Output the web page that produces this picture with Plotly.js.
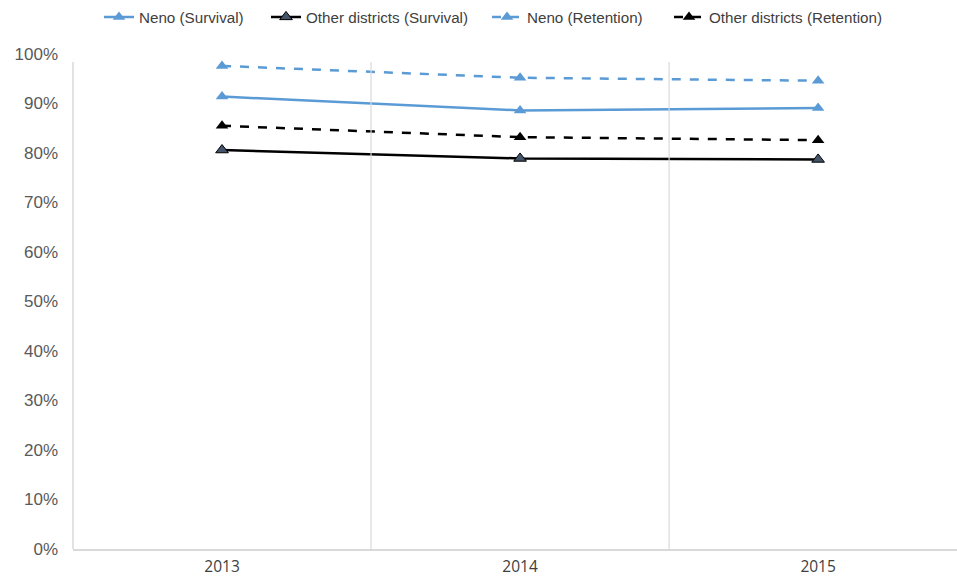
<!DOCTYPE html>
<html>
<head>
<meta charset="utf-8">
<script src="https://cdn.plot.ly/plotly-3.0.1.min.js"></script>
<style>html,body{margin:0;padding:0;background:#fff;}#chart{width:957px;height:579px;}</style>
</head>
<body>
<div id="chart"></div>
<script>
var years = ["2013", "2014", "2015"];
var nenoSurvival = [91.4, 88.6, 89.1];
var otherSurvival = [80.6, 78.9, 78.7];
var nenoRetention = [97.6, 95.2, 94.6];
var otherRetention = [85.5, 83.2, 82.6];
var yTicks = [0, 10, 20, 30, 40, 50, 60, 70, 80, 90, 100];

var blue = "#5b9bd5";
var traces = [
  {x: years, y: nenoSurvival, name: "Neno (Survival)", mode: "lines+markers", legend: "legend",
   line: {color: blue, width: 2.5}, marker: {symbol: "triangle-up", size: 11, color: blue}},
  {x: years, y: otherSurvival, name: "Other districts (Survival)", mode: "lines+markers", legend: "legend2",
   line: {color: "#000000", width: 2.5}, marker: {symbol: "triangle-up", size: 11, color: "#44546a", line: {color: "#000", width: 1}}},
  {x: years, y: nenoRetention, name: "Neno (Retention)", mode: "lines+markers", legend: "legend3",
   line: {color: blue, width: 2.5, dash: "dash"}, marker: {symbol: "triangle-up", size: 11, color: blue}},
  {x: years, y: otherRetention, name: "Other districts (Retention)", mode: "lines+markers", legend: "legend4",
   line: {color: "#000000", width: 2.5, dash: "dash"}, marker: {symbol: "triangle-up", size: 11, color: "#000000"}}
];

var legFont = {family: "Liberation Sans, Arial", size: 15.2, color: "#404040"};
function leg(px) {
  return {orientation: "h", x: (px - 73) / 884, xanchor: "left", y: (549 - 17) / 495, yanchor: "middle",
    font: legFont, bgcolor: "rgba(0,0,0,0)"};
}

var layout = {
  width: 957, height: 579,
  margin: {l: 73, r: 0, t: 54, b: 30, autoexpand: false},
  paper_bgcolor: "#fff", plot_bgcolor: "#fff",
  showlegend: true,
  legend: leg(99),
  legend2: leg(266),
  legend3: leg(487),
  legend4: leg(669),
  xaxis: {type: "category", range: [-0.5, 2.466], showgrid: false, zeroline: false,
    showline: true, linecolor: "#d9d9d9", linewidth: 1.5, ticks: "", ticklabelstandoff: 3,
    tickfont: {family: "Open Sans, Arial", size: 15.5, color: "#404040"}},
  yaxis: {range: [0, 100], tickvals: yTicks, ticktext: yTicks.map(function(v){return v + "%";}),
    showgrid: false, zeroline: false, showline: false, ticks: "", ticklabelstandoff: 14,
    tickfont: {family: "Liberation Sans, Arial", size: 17, color: "#595959"}},
  shapes: [
    {type: "line", xref: "paper", yref: "y", x0: 0, x1: 0, y0: 0, y1: 98.4, line: {color: "#d9d9d9", width: 1.5}},
    {type: "line", xref: "x", yref: "y", x0: 0.5, x1: 0.5, y0: 0, y1: 98.4, line: {color: "#d9d9d9", width: 1.2}},
    {type: "line", xref: "x", yref: "y", x0: 1.5, x1: 1.5, y0: 0, y1: 98.4, line: {color: "#d9d9d9", width: 1.2}}
  ]
};

Plotly.newPlot("chart", traces, layout, {displayModeBar: false});
</script>
</body>
</html>
